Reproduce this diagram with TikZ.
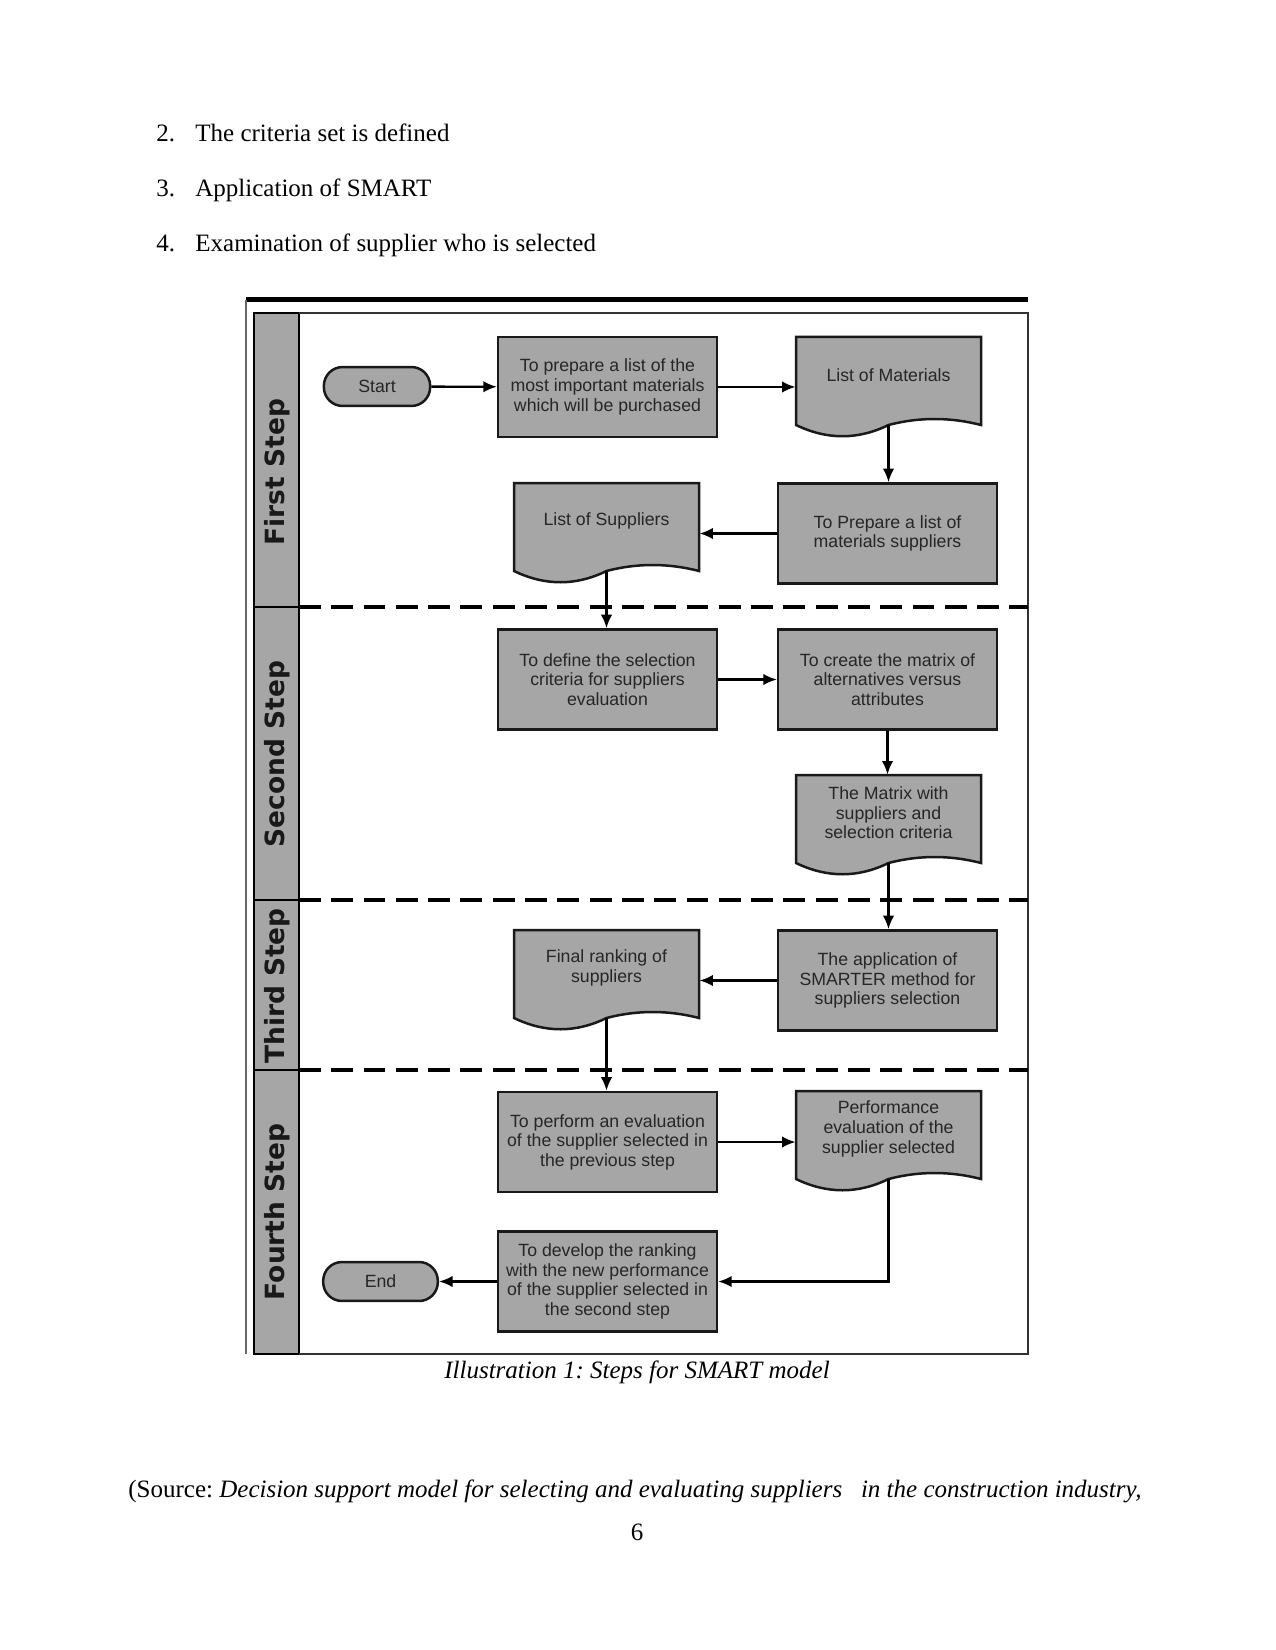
\documentclass[tikz,border=0pt]{standalone}
\usepackage{fontspec}
\setmainfont{Liberation Serif}
\newfontfamily\diagfont{Liberation Sans}
\newfontfamily\lanefont{DejaVu Sans}
\usepackage{xcolor}
\usetikzlibrary{arrows.meta}

\definecolor{boxgray}{gray}{0.65}
\definecolor{inkgray}{gray}{0.15}
\frenchspacing

\begin{document}
\begin{tikzpicture}[x=0.48pt, y=-0.48pt,
    bodytext/.style={inner sep=0pt, font=\fontsize{12}{14}\selectfont},
    box/.style={draw=black!90, line width=1.2pt, fill=boxgray, minimum width=105pt, minimum height=48pt,
                align=center, inner sep=0pt, text=inkgray, font=\diagfont\fontsize{8.5}{9.4}\selectfont},
    doctext/.style={minimum width=88.8pt, minimum height=36.5pt, align=center, inner sep=0pt,
                text=inkgray, font=\diagfont\fontsize{8.5}{9.4}\selectfont},
    docshape/.style={draw=black!90, line width=1.2pt, fill=boxgray},
    term/.style={draw=black!90, line width=1.2pt, fill=boxgray, rounded corners=9pt, minimum height=18.7pt,
                inner sep=0pt, text=inkgray, font=\diagfont\fontsize{8.5}{9.4}\selectfont},
    lanelabel/.style={rotate=90, inner sep=0pt, text=black!90, font=\lanefont\bfseries\fontsize{12.7}{14}\selectfont},
    flow/.style={-{Latex[length=6.5pt,width=5.5pt]}, line width=1.1pt}]
\useasboundingbox (0,0) rectangle (1275,1650);

% text above the figure
\node[bodytext, anchor=base west] (num2) at (156,142) {2.};
\node[bodytext, anchor=base west] (item2) at (195,142) {The criteria set is defined};
\node[bodytext, anchor=base west] (num3) at (156,197) {3.};
\node[bodytext, anchor=base west] (item3) at (195,197) {Application of SMART};
\node[bodytext, anchor=base west] (num4) at (156,252) {4.};
\node[bodytext, anchor=base west] (item4) at (195,252) {Examination of supplier who is selected};

% frame and lanes
\draw[line width=2.4pt] (246,300) -- (1028,300);
\draw[line width=0.5pt, black!60] (246,300) -- (246,1354);
\draw[fill=boxgray, line width=1pt] (254,313) rectangle (299,1354);
\draw[line width=0.8pt, black!80] (299,313) -- (1028,313) -- (1028,1354) -- (299,1354);
\foreach \y in {607,900,1070}
{
    \draw[line width=1pt] (254,\y) -- (299,\y);
    \draw[dash pattern=on 10.5pt off 5pt, line width=1.6pt] (299,\y) -- (1028,\y);
}
\node[lanelabel] (lane1) at (277,472) {First Step};
\node[lanelabel] (lane2) at (277,754) {Second Step};
\node[lanelabel] (lane3) at (277,986) {Third Step};
\node[lanelabel] (lane4) at (277,1212) {Fourth Step};

% document shapes
\foreach \x/\y/\n in {796/337/matlist, 514/483/suplist, 796/775/critmat, 514/930/finrank, 796/1091/perfdoc}
{
    \draw[docshape] (\x,\y) -- (\x+185,\y) -- (\x+185,\y+88)
        .. controls (\x+154,\y+80) and (\x+123,\y+80) .. (\x+92.5,\y+88)
        .. controls (\x+62,\y+103) and (\x+31,\y+103) .. (\x,\y+88) -- cycle;
    \coordinate (\n-b) at (\x+92.5,\y+88);
}
\node[doctext] (matlist) at (888.5,375) {List of Materials};
\node[doctext] (suplist) at (606.5,521) {List of Suppliers};
\node[doctext] (critmat) at (888.5,813) {The Matrix with\\suppliers and\\selection criteria};
\node[doctext] (finrank) at (606.5,968) {Final ranking of\\suppliers};
\node[doctext] (perfdoc) at (888.5,1129) {Performance\\evaluation of the\\supplier selected};

% process boxes
\node[term, minimum width=51pt] (start) at (377,386.5) {Start};
\node[box] (prepmat) at (607.5,387) {To prepare a list of the\\most important materials\\which will be purchased};
\node[box] (prepsup) at (887.5,533.5) {To Prepare a list of\\materials suppliers};
\node[box] (defcrit) at (607.5,679.5) {To define the selection\\criteria for suppliers\\evaluation};
\node[box] (creatmat) at (887.5,679.5) {To create the matrix of\\alternatives versus\\attributes};
\node[box] (smarter) at (887.5,980.5) {The application of\\SMARTER method for\\suppliers selection};
\node[box] (perfeval) at (607.5,1142) {To perform an evaluation\\of the supplier selected in\\the previous step};
\node[box] (newrank) at (607.5,1281.5) {To develop the ranking\\with the new performance\\of the supplier selected in\\the second step};
\node[term, minimum width=55pt] (end) at (380.5,1281.5) {End};

% arrows
\draw[flow] (start) -- (prepmat);
\draw[flow] (prepmat) -- (prepmat -| matlist.west);
\draw[flow] (matlist-b) -- (matlist-b |- prepsup.north);
\draw[flow] (prepsup) -- (prepsup -| suplist.east);
\draw[flow] (suplist-b) -- (suplist-b |- defcrit.north);
\draw[flow] (defcrit) -- (creatmat);
\draw[flow] (creatmat) -- (creatmat |- critmat.north);
\draw[flow] (critmat-b) -- (critmat-b |- smarter.north);
\draw[flow] (smarter) -- (smarter -| finrank.east);
\draw[flow] (finrank-b) -- (finrank-b |- perfeval.north);
\draw[flow] (perfeval) -- (perfeval -| perfdoc.west);
\draw[flow] (perfdoc-b) |- (newrank);
\draw[flow] (newrank) -- (end);

% caption and source
\node[bodytext, anchor=base, font=\itshape\fontsize{12}{14}\selectfont] (caption) at (637,1378) {Illustration 1: Steps for SMART model};
\node[bodytext, anchor=base west] (source) at (128,1497) {(Source: \textit{Decision support model for selecting and evaluating suppliers\hspace{9pt}in the construction industry,}};
\node[bodytext, anchor=base] (pageno) at (637,1540) {6};
\end{tikzpicture}
\end{document}
